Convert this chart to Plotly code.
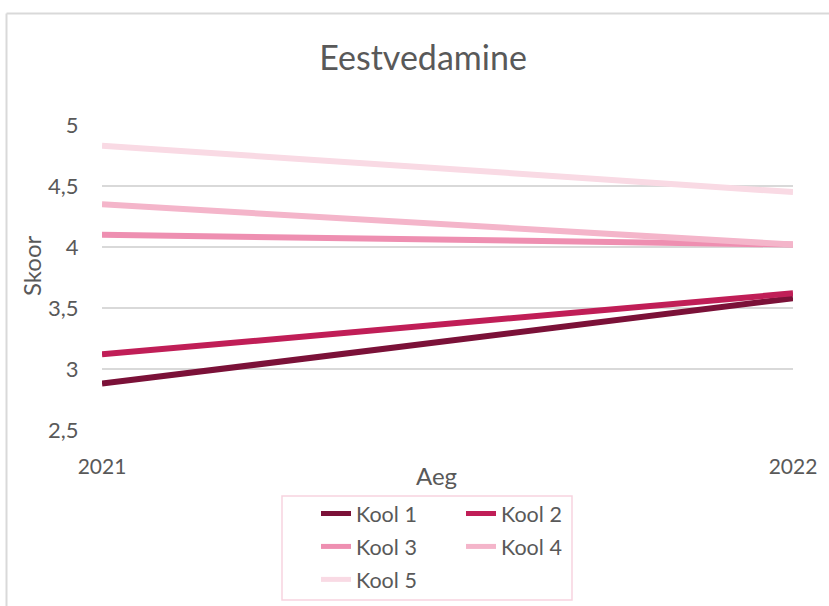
import plotly.graph_objects as go

years = [2021, 2022]
series_names = ["Kool 1", "Kool 2", "Kool 3", "Kool 4", "Kool 5"]
kool1 = [2.88, 3.58]
kool2 = [3.12, 3.62]
kool3 = [4.10, 4.02]
kool4 = [4.35, 4.02]
kool5 = [4.83, 4.45]
y_ticks = [2.5, 3, 3.5, 4, 4.5, 5]

colors = ["#7b1138", "#c01e57", "#ee8fb1", "#f4b5ca", "#f9dae4"]
values = [kool1, kool2, kool3, kool4, kool5]
legend_ids = ["legend", "legend2", "legend", "legend2", "legend"]

FONT = "Lato"
TXT = "#595959"

fig = go.Figure()
for name, vals, col, lg in zip(series_names, values, colors, legend_ids):
    fig.add_trace(go.Scatter(x=years, y=vals, name=name, mode="lines",
                             legendgroup=name,
                             line=dict(color=col, width=6), legend=lg))

W, H = 829, 606
L, R, T, B = 102, 36, 125, 176
pw, ph = W - L - R, H - T - B

def px(x):
    return (x - L) / pw

def py(y):
    return (H - B - y) / ph

legend_common = dict(bgcolor="rgba(0,0,0,0)", borderwidth=0,
                     font=dict(family=FONT, size=21.5, color=TXT),
                     orientation="v", xanchor="left", yanchor="top",
                     itemsizing="constant", tracegroupgap=2)

fig.update_layout(
    width=W, height=H,
    margin=dict(l=L, r=R, t=T, b=B, autoexpand=False),
    paper_bgcolor="white", plot_bgcolor="white",
    separators=", ",
    title=dict(text="Eestvedamine", x=px(423), xref="paper", xanchor="center",
               y=1 - 58 / H, yanchor="middle",
               font=dict(family=FONT, size=34, color=TXT)),
    showlegend=True,
    legend=dict(x=px(316), y=py(493), **legend_common),
    legend2=dict(x=px(461), y=py(493), **legend_common),
    xaxis=dict(range=[2021, 2022], tickvals=years, ticktext=[str(y) for y in years],
               showgrid=False, zeroline=False, showline=False,
               ticks="outside", ticklen=18, tickcolor="rgba(0,0,0,0)",
               tickfont=dict(family=FONT, size=21, color=TXT)),
    yaxis=dict(range=[2.5, 5], tickvals=y_ticks, showgrid=True,
               gridcolor="#d9d9d9", gridwidth=1.5, zeroline=False, showline=False,
               ticks="outside", ticklen=18, tickcolor="rgba(0,0,0,0)",
               tickformat=".1~f",
               tickfont=dict(family=FONT, size=22, color=TXT)),
    annotations=[
        dict(text="Skoor", xref="paper", yref="paper", x=px(31), y=py(266),
             textangle=-90, showarrow=False, xanchor="center", yanchor="middle",
             font=dict(family=FONT, size=24, color=TXT)),
        dict(text="Aeg", xref="paper", yref="paper", x=px(436), y=py(476),
             showarrow=False, xanchor="center", yanchor="middle",
             font=dict(family=FONT, size=24, color=TXT)),
    ],
    shapes=[
        dict(type="line", xref="paper", yref="paper", x0=px(6.5), x1=px(900),
             y0=py(13.5), y1=py(13.5), line=dict(color="#d9d9d9", width=2)),
        dict(type="line", xref="paper", yref="paper", x0=px(6.5), x1=px(6.5),
             y0=py(13.5), y1=py(700), line=dict(color="#d9d9d9", width=2)),
        dict(type="rect", xref="paper", yref="paper", x0=px(282), x1=px(572),
             y0=py(496), y1=py(600), line=dict(color="#f7d4df", width=1.5),
             fillcolor="rgba(0,0,0,0)"),
    ],
)

fig.write_html("out.html")
